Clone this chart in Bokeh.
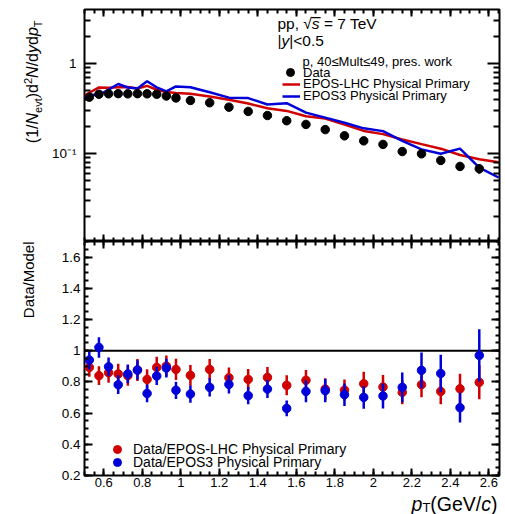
import math
from bokeh.plotting import figure
from bokeh.layouts import column, row
from bokeh.models import (FixedTicker, LinearAxis, LogAxis, Range1d, Span, Label,
                          Legend, LegendItem, BoxAnnotation)
from bokeh.embed import file_html
from bokeh.resources import INLINE

# ---------------- data ----------------
pt = [0.525, 0.575, 0.625, 0.675, 0.725, 0.775, 0.825, 0.875, 0.925, 0.975,
      1.05, 1.15, 1.25, 1.35, 1.45, 1.55, 1.65, 1.75, 1.85, 1.95,
      2.05, 2.15, 2.25, 2.35, 2.45, 2.55]
data_yield = [0.422, 0.455, 0.460, 0.462, 0.460, 0.462, 0.460, 0.455, 0.435, 0.414,
              0.388, 0.366, 0.327, 0.293, 0.264, 0.231, 0.210, 0.184, 0.157, 0.138,
              0.126, 0.105, 0.099, 0.0836, 0.0717, 0.0676]
data_err = [0.012, 0.013, 0.013, 0.013, 0.013, 0.013, 0.013, 0.013, 0.012, 0.012,
            0.011, 0.010, 0.009, 0.008, 0.008, 0.007, 0.007, 0.007, 0.008, 0.008,
            0.009, 0.008, 0.008, 0.0084, 0.0072, 0.008]

model_pt = [0.475, 0.525, 0.575, 0.625, 0.675, 0.725, 0.775, 0.825, 0.875, 0.925, 0.975,
            1.05, 1.15, 1.25, 1.35, 1.45, 1.55, 1.65, 1.75, 1.85, 1.95,
            2.05, 2.15, 2.25, 2.35, 2.45, 2.55, 2.65]
epos_lhc = [0.41, 0.473, 0.542, 0.536, 0.543, 0.548, 0.527, 0.564, 0.510, 0.482, 0.470,
            0.461, 0.430, 0.395, 0.359, 0.318, 0.297, 0.259, 0.244, 0.210, 0.178,
            0.164, 0.143, 0.127, 0.113, 0.0960, 0.0860, 0.080]
epos3 = [0.395, 0.449, 0.446, 0.513, 0.591, 0.541, 0.527, 0.634, 0.543, 0.489, 0.555,
         0.545, 0.478, 0.417, 0.412, 0.350, 0.362, 0.284, 0.250, 0.219, 0.190,
         0.177, 0.138, 0.111, 0.099, 0.113, 0.0697, 0.054]

ratio_lhc = [0.893, 0.840, 0.859, 0.851, 0.840, 0.876, 0.816, 0.893, 0.902, 0.880,
             0.842, 0.880, 0.827, 0.816, 0.829, 0.778, 0.810, 0.754, 0.748, 0.788,
             0.767, 0.733, 0.782, 0.739, 0.756, 0.797]
ratio_lhc_err = [0.060, 0.060, 0.065, 0.065, 0.065, 0.070, 0.065, 0.068, 0.068, 0.068,
                 0.066, 0.066, 0.066, 0.066, 0.066, 0.064, 0.066, 0.070, 0.068, 0.077,
                 0.077, 0.077, 0.080, 0.082, 0.096, 0.109]
ratio_epos3 = [0.940, 1.021, 0.897, 0.782, 0.851, 0.876, 0.726, 0.838, 0.889, 0.746,
               0.722, 0.765, 0.784, 0.712, 0.754, 0.630, 0.739, 0.744, 0.718, 0.701,
               0.710, 0.765, 0.874, 0.854, 0.635, 0.970]
ratio_epos3_err = [0.060, 0.066, 0.060, 0.060, 0.060, 0.062, 0.057, 0.058, 0.060, 0.055,
                   0.055, 0.058, 0.058, 0.055, 0.058, 0.050, 0.070, 0.075, 0.072, 0.073,
                   0.080, 0.096, 0.115, 0.120, 0.096, 0.167]

x_major = [0.6, 0.8, 1.0, 1.2, 1.4, 1.6, 1.8, 2.0, 2.2, 2.4, 2.6]
x_major_labels = ["0.6", "0.8", "1", "1.2", "1.4", "1.6", "1.8", "2", "2.2", "2.4", "2.6"]
top_major = [0.01, 0.1, 1.0]
top_major_labels = ["10\u207b\u00b2", "10\u207b\u00b9", "1"]
bot_major = [0.2, 0.4, 0.6, 0.8, 1.0, 1.2, 1.4, 1.6]
bot_major_labels = ["0.2", "0.4", "0.6", "0.8", "1", "1.2", "1.4", "1.6"]

# ---------------- style / layout ----------------
RED = "#d00000"
BLUE = "#0000d8"
FONT = "Liberation Sans"

X_LO, X_HI = 0.5, 2.655
TOP_LO, TOP_HI = 0.0105, 3.98
BOT_LO, BOT_HI = 0.2, 1.7

LEFT_W = 48            # strip holding the rotated axis titles
W = 505 - LEFT_W       # width of the panel canvases
FL, FR = 84 - LEFT_W, 6
FW = W - FL - FR       # 415
TOP_H, TOP_BT = 241, 9
FH_T = TOP_H - TOP_BT  # 232
BOT_H, BOT_BB = 251, 17
FH_B = BOT_H - BOT_BB  # 234
XS_H = 22              # strip holding the x title
TOTAL_H = TOP_H + BOT_H + XS_H     # 514

x_minor = [round(0.5 + 0.05 * i, 3) for i in range(0, 44)]
top_minor = [round(k * 10 ** e, 5) for e in (-2, -1, 0) for k in range(2, 10)]
bot_minor = [round(0.2 + 0.05 * i, 3) for i in range(0, 31)]

# page-pixel -> data helpers (for annotation placement)
def rx(px): return X_LO + (px - 84) / FW * (X_HI - X_LO)
def rty(py): return 10 ** (math.log10(TOP_HI) - (py - 9) / FH_T * (math.log10(TOP_HI) - math.log10(TOP_LO)))
def rby(py): return BOT_HI - (py - 241) / FH_B * (BOT_HI - BOT_LO)

# data -> frame pixel offsets (for legend placement)
def fx(xd): return (xd - X_LO) / (X_HI - X_LO) * FW
def fty(v): return (math.log10(v) - math.log10(TOP_LO)) / (math.log10(TOP_HI) - math.log10(TOP_LO)) * FH_T
def fby(v): return (v - BOT_LO) / (BOT_HI - BOT_LO) * FH_B

W_EM = {'(': .333, ')': .333, '1': .556, '/': .278, 'N': .722, 'e': .556, 'v': .5, 't': .278,
        'd': .556, '2': .556, 'y': .5, 'p': .556, 'T': .611, 'D': .722, 'a': .556, 'M': .833,
        'o': .556, 'l': .222, 'G': .778, 'V': .667, 'c': .5, ' ': .278, 's': .5, '=': .584,
        '7': .556, '|': .26, '<': .584, '0': .556, '.': .278, '5': .556, ',': .278, '\u221a': .549}
def tw(s, size): return sum(W_EM.get(c, 0.556) for c in s) * size
MID = 0.35   # distance from baseline to text middle, in em


def make_axis(cls, ticks, minor, labels=None, tin=7, mtin=4, standoff=4, fsize="13.5px"):
    ax = cls(ticker=FixedTicker(ticks=ticks, minor_ticks=minor))
    ax.axis_line_color = None
    ax.major_tick_in = tin
    ax.major_tick_out = 0
    ax.minor_tick_in = mtin
    ax.minor_tick_out = 0
    ax.major_tick_line_color = "black"
    ax.minor_tick_line_color = "black"
    ax.major_tick_line_width = 2
    ax.minor_tick_line_width = 2
    if labels is not None:
        ax.major_label_overrides = dict(zip(ticks, labels))
        ax.major_label_text_font = FONT
        ax.major_label_text_font_size = fsize
        ax.major_label_text_color = "black"
        ax.major_label_standoff = standoff
    else:
        ax.major_label_overrides = {t: "" for t in ticks}
        ax.major_label_text_font_size = "0px"
        ax.major_label_standoff = 0
    return ax


def style_fig(p, outline=True):
    p.xgrid.visible = False
    p.ygrid.visible = False
    p.outline_line_color = "black" if outline else None
    p.outline_line_width = 2
    p.background_fill_color = "white"
    p.border_fill_color = "white"


def add_label(p, x, y, text, size, style="normal", align="left", angle=0.0):
    p.add_layout(Label(x=x, y=y, text=text, text_font=FONT, text_font_size=f"{size}px",
                       text_font_style=style, text_align=align, text_baseline="middle",
                       angle=angle, text_color="black"))


def one_legend(p, renderer, label, glyph_left_px, center_v, fy, gw, standoff, fsize):
    leg = Legend(items=[LegendItem(label=label, renderers=[renderer])],
                 location=(fx(rx(glyph_left_px)), fy(center_v) - 10),
                 padding=0, margin=0, spacing=0, glyph_width=gw, glyph_height=20,
                 label_height=20, label_standoff=standoff, label_text_font=FONT,
                 label_text_font_size=fsize, label_text_color="black",
                 border_line_color=None, background_fill_alpha=0)
    p.add_layout(leg)


x_range = Range1d(X_LO, X_HI)

# ---------------- top panel ----------------
top = figure(width=W, height=TOP_H, x_range=x_range, y_range=Range1d(TOP_LO, TOP_HI),
             y_axis_type="log", x_axis_location=None, y_axis_location=None,
             output_backend="svg", toolbar_location=None,
             min_border_left=FL, min_border_right=FR, min_border_top=TOP_BT, min_border_bottom=0)
style_fig(top)
top.add_layout(make_axis(LogAxis, top_major, top_minor, top_major_labels, tin=12, mtin=6, standoff=8), "left")
top.add_layout(make_axis(LogAxis, top_major, top_minor, None, tin=12, mtin=6), "right")
top.add_layout(make_axis(LinearAxis, x_major, x_minor, None, tin=7, mtin=4), "above")
top.add_layout(make_axis(LinearAxis, x_major, x_minor, None, tin=7, mtin=4), "below")

r_lhc = top.line(model_pt, epos_lhc, line_color=RED, line_width=2.5)
r_e3 = top.line(model_pt, epos3, line_color=BLUE, line_width=2.5)
top.segment(x0=pt, x1=pt, y0=[v - e for v, e in zip(data_yield, data_err)],
            y1=[v + e for v, e in zip(data_yield, data_err)], line_color="black", line_width=2)
r_data = top.scatter(pt, data_yield, size=8.5, marker="circle", fill_color="black", line_color="black")

# "pp, sqrt(s) = 7 TeV"  (baseline at page y 28)
FS = 15.5
yc = 28 - MID * FS
xs = 277
add_label(top, rx(xs), rty(yc), "pp, \u221a", FS)
xs += tw("pp, \u221a", FS)
add_label(top, rx(xs), rty(yc), "s", FS, "italic")
top.add_layout(BoxAnnotation(left=rx(xs - 0.5), right=rx(xs + tw("s", FS) + 1), top=rty(16.6),
                             bottom=rty(17.8), fill_color="black", fill_alpha=1, line_color=None))
xs += tw("s", FS) + tw(" ", FS)
add_label(top, rx(xs), rty(yc), "= 7 TeV", FS)
# "|y|<0.5"  (baseline at page y 45)
yc = 45 - MID * FS
xs = 277
for t, st in [("|", "normal"), ("y", "italic"), ("|<0.5", "normal")]:
    add_label(top, rx(xs), rty(yc), t, FS, st)
    xs += tw(t, FS)
add_label(top, rx(302), rty(61), "p, 40\u2264Mult\u226449, pres. work", 13)

one_legend(top, r_data, "Data", 280, rty(72), fty, 20, 3, "13px")
one_legend(top, r_lhc, "EPOS-LHC Physical Primary", 282, rty(83.5), fty, 18, 3, "13px")
one_legend(top, r_e3, "EPOS3 Physical Primary", 282, rty(95.5), fty, 18, 3, "13px")

# ---------------- bottom panel ----------------
bot = figure(width=W, height=BOT_H, x_range=x_range, y_range=Range1d(BOT_LO, BOT_HI),
             x_axis_location=None, y_axis_location=None,
             output_backend="svg", toolbar_location=None,
             min_border_left=FL, min_border_right=FR, min_border_top=0, min_border_bottom=BOT_BB)
style_fig(bot)
bot.add_layout(make_axis(LinearAxis, bot_major, bot_minor, bot_major_labels, tin=8, mtin=4, standoff=4), "left")
bot.add_layout(make_axis(LinearAxis, bot_major, bot_minor, None, tin=8, mtin=4), "right")
bot.add_layout(make_axis(LinearAxis, x_major, x_minor, x_major_labels, tin=7, mtin=4, standoff=2,
                         fsize="13px"), "below")
bot.add_layout(make_axis(LinearAxis, x_major, x_minor, None, tin=7, mtin=4), "above")

bot.add_layout(Span(location=1.0, dimension="width", line_color="black", line_width=2, level="underlay"))

bot.segment(x0=pt, x1=pt, y0=[v - e for v, e in zip(ratio_lhc, ratio_lhc_err)],
            y1=[v + e for v, e in zip(ratio_lhc, ratio_lhc_err)], line_color=RED, line_width=2.5)
r_rl = bot.scatter(pt, ratio_lhc, size=8.5, marker="circle", fill_color=RED, line_color=RED)
bot.segment(x0=pt, x1=pt, y0=[v - e for v, e in zip(ratio_epos3, ratio_epos3_err)],
            y1=[v + e for v, e in zip(ratio_epos3, ratio_epos3_err)], line_color=BLUE, line_width=2.5)
r_r3 = bot.scatter(pt, ratio_epos3, size=8.5, marker="circle", fill_color=BLUE, line_color=BLUE)

one_legend(bot, r_rl, "Data/EPOS-LHC Physical Primary", 107, rby(448.5), fby, 20, 6, "14px")
one_legend(bot, r_r3, "Data/EPOS3 Physical Primary", 107, rby(462), fby, 20, 6, "14px")

# ---------------- x strip with the x title (y in page pixels) ----------------
XS_TOP = TOTAL_H - XS_H
xstrip = figure(width=W, height=XS_H, x_range=x_range, y_range=Range1d(TOTAL_H, XS_TOP),
                x_axis_location=None, y_axis_location=None, output_backend="svg", toolbar_location=None,
                min_border_left=FL, min_border_right=FR, min_border_top=0, min_border_bottom=0)
style_fig(xstrip, outline=False)
XF = 19.5
xtitle = [("p", XF, "italic", 0), ("T", 13, "normal", 3.5), ("(GeV/", XF, "normal", 0),
          ("c", XF, "italic", 0), (")", XF, "normal", 0)]
ymid = XS_TOP + XS_H / 2
xx = 497 - sum(tw(t, s) for t, s, _, _ in xtitle)
for t, s, st, dy in xtitle:
    add_label(xstrip, rx(xx), ymid + dy, t, s, st)
    xx += tw(t, s)

# ---------------- y strip with the rotated titles (page-pixel coordinates) ----------------
ystrip = figure(width=LEFT_W, height=TOTAL_H, x_range=Range1d(0, LEFT_W), y_range=Range1d(TOTAL_H, 0),
                x_axis_location=None, y_axis_location=None, output_backend="svg", toolbar_location=None,
                min_border_left=0, min_border_right=0, min_border_top=0, min_border_bottom=0)
style_fig(ystrip, outline=False)
ytitle = [("(1/", 16, "normal", 0), ("N", 16, "italic", 0), ("evt", 11, "normal", 3.5),
          (")d", 16, "normal", 0), ("2", 11, "normal", -6.5), ("N", 16, "italic", 0),
          ("/d", 16, "normal", 0), ("y", 16, "italic", 0), ("d", 16, "normal", 0),
          ("p", 16, "italic", 0), ("T", 11, "normal", 3.5)]
yy = 20 + sum(tw(t, s) for t, s, _, _ in ytitle)
for t, s, st, dx in ytitle:
    add_label(ystrip, 38 + dx - MID * s, yy, t, s, st, angle=math.pi / 2)
    yy -= tw(t, s)
add_label(ystrip, 33.5 - MID * 15, 241, "Data/Model", 15, align="right", angle=math.pi / 2)

layout = row(ystrip, column(top, bot, xstrip))
open("out.html", "w").write(file_html(layout, INLINE))
